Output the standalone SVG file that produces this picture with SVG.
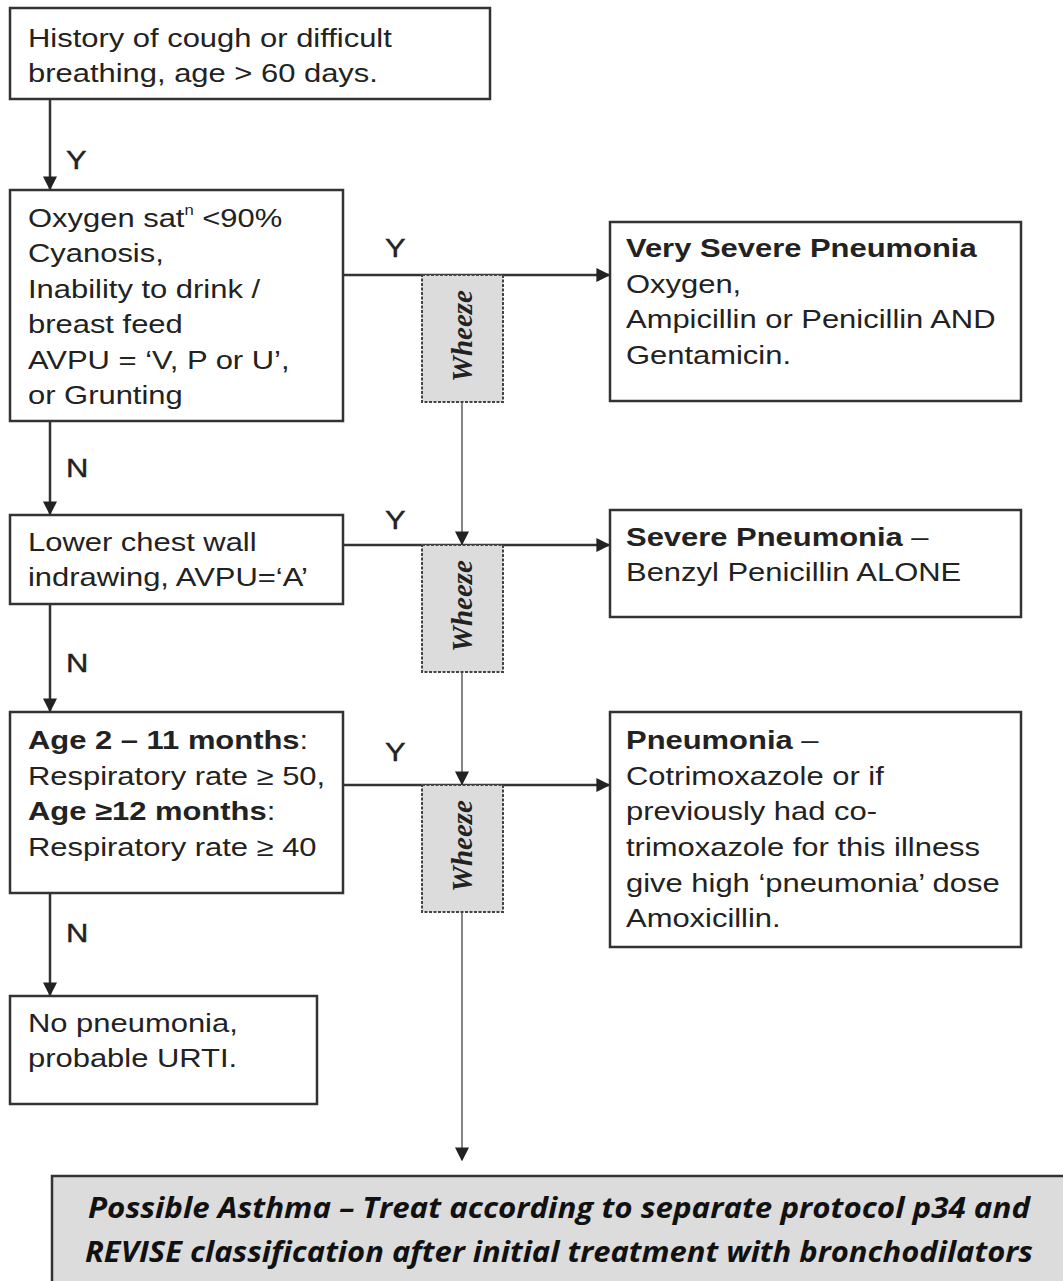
<svg xmlns="http://www.w3.org/2000/svg" width="1063" height="1281" viewBox="0 0 1063 1281">
<defs>
<style>
.box{fill:#fff;stroke:#333;stroke-width:2.5}
.wz{fill:#dcdcdc;stroke:#444;stroke-width:2;stroke-dasharray:3 1.5}
.t{font-family:"Liberation Sans",Arial,sans-serif;font-size:26px;fill:#222}
.b{font-weight:bold}
.lbl{font-family:"Liberation Sans",Arial,sans-serif;font-size:26px;fill:#222;stroke:#222;stroke-width:0.4}
.wt{font-family:"Liberation Serif","Times New Roman",serif;font-size:29px;font-style:italic;font-weight:bold;fill:#222}
.ln{stroke:#333;stroke-width:2.5;fill:none}
.thin{stroke:#444;stroke-width:1.3;fill:none}
.ast{font-family:"Open Sans","Liberation Sans",sans-serif;font-size:29px;font-style:italic;font-weight:bold;fill:#111}
</style>
<marker id="ah" viewBox="0 0 10 10" refX="9" refY="5" markerWidth="14" markerHeight="14" markerUnits="userSpaceOnUse" orient="auto">
<path d="M0,0 L10,5 L0,10 z" fill="#222"/>
</marker>
</defs>
<rect width="1063" height="1281" fill="#fff"/>

<g id="connectors">
<line class="ln" x1="50" y1="99" x2="50" y2="189" marker-end="url(#ah)"/>
<line class="ln" x1="50" y1="421" x2="50" y2="514" marker-end="url(#ah)"/>
<line class="ln" x1="50" y1="604" x2="50" y2="711" marker-end="url(#ah)"/>
<line class="ln" x1="50" y1="893" x2="50" y2="995" marker-end="url(#ah)"/>
<line class="ln" x1="343" y1="275" x2="609" y2="275" marker-end="url(#ah)"/>
<line class="ln" x1="343" y1="545" x2="609" y2="545" marker-end="url(#ah)"/>
<line class="ln" x1="343" y1="785" x2="609" y2="785" marker-end="url(#ah)"/>
<line class="thin" x1="462" y1="402" x2="462" y2="544" marker-end="url(#ah)"/>
<line class="thin" x1="462" y1="672" x2="462" y2="784" marker-end="url(#ah)"/>
<line class="thin" x1="462" y1="912" x2="462" y2="1160" marker-end="url(#ah)"/>
<text class="lbl" transform="translate(66,169) scale(1.19,1)">Y</text>
<text class="lbl" transform="translate(66,477) scale(1.19,1)">N</text>
<text class="lbl" transform="translate(66,672) scale(1.19,1)">N</text>
<text class="lbl" transform="translate(66,942) scale(1.19,1)">N</text>
<text class="lbl" transform="translate(385,257) scale(1.19,1)">Y</text>
<text class="lbl" transform="translate(385,529) scale(1.19,1)">Y</text>
<text class="lbl" transform="translate(385,761) scale(1.19,1)">Y</text>
</g>

<g id="n1">
<rect class="box" x="10" y="8" width="480" height="91"/>
<g transform="translate(28,0) scale(1.19,1)">
<text class="t" x="0" y="47">History of cough or difficult</text>
<text class="t" x="0" y="82">breathing, age &gt; 60 days.</text>
</g>
</g>

<g id="n2">
<rect class="box" x="10" y="190" width="333" height="231"/>
<g transform="translate(28,0) scale(1.19,1)">
<text class="t" x="0" y="227">Oxygen sat<tspan font-size="14" dy="-12">n</tspan><tspan dy="12"> &lt;90%</tspan></text>
<text class="t" x="0" y="262">Cyanosis,</text>
<text class="t" x="0" y="298">Inability to drink /</text>
<text class="t" x="0" y="333">breast feed</text>
<text class="t" x="0" y="369">AVPU = ‘V, P or U’,</text>
<text class="t" x="0" y="404">or Grunting</text>
</g>
</g>

<g id="n3">
<rect class="box" x="10" y="515" width="333" height="89"/>
<g transform="translate(28,0) scale(1.19,1)">
<text class="t" x="0" y="551">Lower chest wall</text>
<text class="t" x="0" y="586">indrawing, AVPU=‘A’</text>
</g>
</g>

<g id="n4">
<rect class="box" x="10" y="712" width="333" height="181"/>
<g transform="translate(28,0) scale(1.19,1)">
<text class="t" x="0" y="749"><tspan class="b">Age 2 – 11 months</tspan>:</text>
<text class="t" x="0" y="785">Respiratory rate ≥ 50,</text>
<text class="t" x="0" y="820"><tspan class="b">Age ≥12 months</tspan>:</text>
<text class="t" x="0" y="856">Respiratory rate ≥ 40</text>
</g>
</g>

<g id="n5">
<rect class="box" x="10" y="996" width="307" height="108"/>
<g transform="translate(28,0) scale(1.19,1)">
<text class="t" x="0" y="1032">No pneumonia,</text>
<text class="t" x="0" y="1067">probable URTI.</text>
</g>
</g>

<g id="vsp">
<rect class="box" x="610" y="222" width="411" height="179"/>
<g transform="translate(626,0) scale(1.19,1)">
<text class="t b" x="0" y="257">Very Severe Pneumonia</text>
<text class="t" x="0" y="293">Oxygen,</text>
<text class="t" x="0" y="328">Ampicillin or Penicillin AND</text>
<text class="t" x="0" y="364">Gentamicin.</text>
</g>
</g>

<g id="sp">
<rect class="box" x="610" y="510" width="411" height="107"/>
<g transform="translate(626,0) scale(1.19,1)">
<text class="t" x="0" y="546"><tspan class="b">Severe Pneumonia</tspan> –</text>
<text class="t" x="0" y="581">Benzyl Penicillin ALONE</text>
</g>
</g>

<g id="pn">
<rect class="box" x="610" y="712" width="411" height="235"/>
<g transform="translate(626,0) scale(1.19,1)">
<text class="t" x="0" y="749"><tspan class="b">Pneumonia</tspan> –</text>
<text class="t" x="0" y="785">Cotrimoxazole or if</text>
<text class="t" x="0" y="820">previously had co-</text>
<text class="t" x="0" y="856">trimoxazole for this illness</text>
<text class="t" x="0" y="892">give high ‘pneumonia’ dose</text>
<text class="t" x="0" y="927">Amoxicillin.</text>
</g>
</g>

<g id="w1">
<rect class="wz" x="422" y="275" width="81" height="127"/>
<text class="wt" transform="translate(472,336) rotate(-90)" text-anchor="middle">Wheeze</text>
</g>
<g id="w2">
<rect class="wz" x="422" y="545" width="81" height="127"/>
<text class="wt" transform="translate(472,606) rotate(-90)" text-anchor="middle">Wheeze</text>
</g>
<g id="w3">
<rect class="wz" x="422" y="785" width="81" height="127"/>
<text class="wt" transform="translate(472,846) rotate(-90)" text-anchor="middle">Wheeze</text>
</g>

<g id="asthma">
<rect x="52" y="1176" width="1020" height="120" fill="#dcdcdc" stroke="#333" stroke-width="2.5"/>
<text class="ast" x="88" y="1218" textLength="942" lengthAdjust="spacingAndGlyphs">Possible Asthma – Treat according to separate protocol p34 and</text>
<text class="ast" x="85" y="1262" textLength="948" lengthAdjust="spacingAndGlyphs">REVISE classification after initial treatment with bronchodilators</text>
</g>
</svg>
